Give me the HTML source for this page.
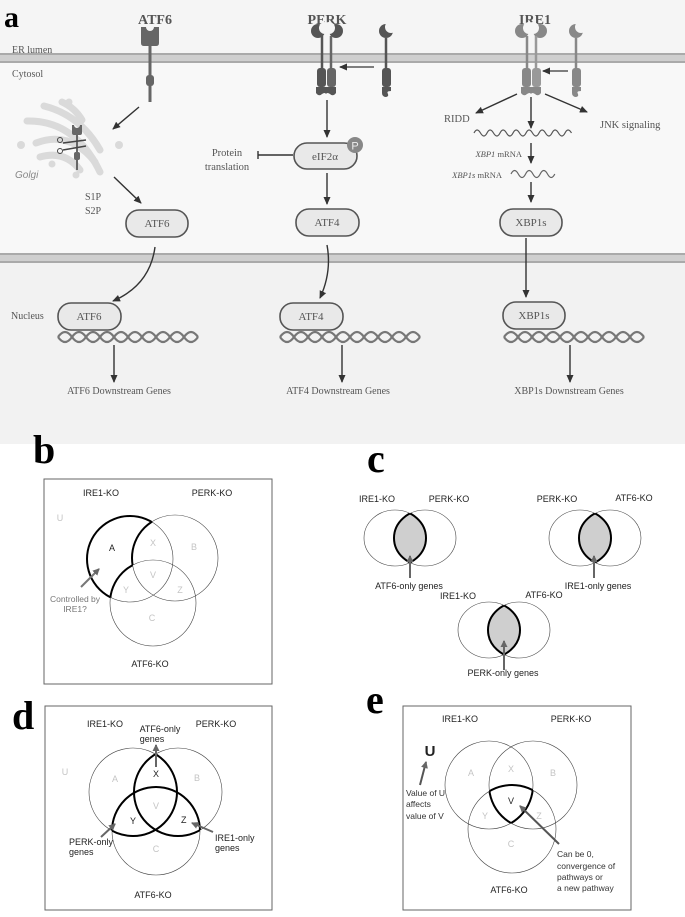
<!DOCTYPE html>
<html><head><meta charset="utf-8"><style>
html,body{margin:0;padding:0;background:#fff;}
svg{display:block;}
.s{font-family:"Liberation Serif",serif;fill:#555;}
.h{font-family:"Liberation Sans",sans-serif;font-size:9px;fill:#222;}
.g{font-family:"Liberation Sans",sans-serif;font-size:9px;fill:#c4c4c4;}
.L{font-family:"Liberation Serif",serif;font-weight:bold;fill:#000;}
</style></head><body>
<svg width="685" height="917" viewBox="0 0 685 917" xmlns="http://www.w3.org/2000/svg">
<defs>
<marker id="ar" markerWidth="8" markerHeight="8" refX="7" refY="4" orient="auto" markerUnits="userSpaceOnUse"><path d="M0,0.5 L8,4 L0,7.5 z" fill="#333"/></marker>
<marker id="ag" markerWidth="8" markerHeight="8" refX="6" refY="4" orient="auto" markerUnits="userSpaceOnUse"><path d="M0,0.5 L7,4 L0,7.5 z" fill="#666"/></marker>
<mask id="bmI"><rect width="685" height="917" fill="#fff"/><circle cx="175" cy="558" r="43" fill="#000"/><circle cx="153" cy="603" r="43" fill="#000"/></mask>
<mask id="bmP"><circle cx="130" cy="559" r="43" fill="#fff"/><circle cx="153" cy="603" r="43" fill="#000"/></mask>
<mask id="bmA"><circle cx="130" cy="559" r="43" fill="#fff"/><circle cx="175" cy="558" r="43" fill="#000"/></mask>
<clipPath id="c1l"><ellipse cx="395" cy="538" rx="31" ry="28"/></clipPath>
<clipPath id="c1r"><ellipse cx="425" cy="538" rx="31" ry="28"/></clipPath>
<clipPath id="c2l"><ellipse cx="580" cy="538" rx="31" ry="28"/></clipPath>
<clipPath id="c2r"><ellipse cx="610" cy="538" rx="31" ry="28"/></clipPath>
<clipPath id="c3l"><ellipse cx="489" cy="630" rx="31" ry="28"/></clipPath>
<clipPath id="c3r"><ellipse cx="519" cy="630" rx="31" ry="28"/></clipPath>
<clipPath id="dcI"><circle cx="178" cy="792" r="44"/><circle cx="156" cy="831" r="44"/></clipPath>
<clipPath id="dcP"><circle cx="133" cy="792" r="44"/><circle cx="156" cy="831" r="44"/></clipPath>
<clipPath id="dcA"><circle cx="133" cy="792" r="44"/><circle cx="178" cy="792" r="44"/></clipPath>
<clipPath id="eI"><circle cx="489" cy="785" r="44"/></clipPath>
<clipPath id="eP"><circle cx="533" cy="785" r="44"/></clipPath>
<clipPath id="eA"><circle cx="512" cy="829" r="44"/></clipPath>
<mask id="emI"><g clip-path="url(#eA)"><circle cx="533" cy="785" r="44" fill="#fff"/></g></mask>
<mask id="emP"><g clip-path="url(#eA)"><circle cx="489" cy="785" r="44" fill="#fff"/></g></mask>
<mask id="emA"><g clip-path="url(#eP)"><circle cx="489" cy="785" r="44" fill="#fff"/></g></mask>
</defs>

<rect x="0" y="0" width="685" height="444" fill="#f5f5f5"/>
<rect x="0" y="63" width="685" height="190" fill="#f8f8f8"/>
<rect x="0" y="263" width="685" height="181" fill="#f2f2f2"/>
<rect x="0" y="53" width="685" height="10" fill="#cfcfcf"/>
<rect x="0" y="53" width="685" height="2" fill="#aaa"/><rect x="0" y="61" width="685" height="2" fill="#aaa"/>
<rect x="0" y="253" width="685" height="10" fill="#cfcfcf"/>
<rect x="0" y="253" width="685" height="2" fill="#aaa"/><rect x="0" y="261" width="685" height="2" fill="#aaa"/>

<text x="4" y="27" class="L" font-size="30">a</text>
<text x="12" y="53" class="s" font-size="10" fill="#888">ER lumen</text>
<text x="12" y="77" class="s" font-size="10" fill="#888">Cytosol</text>
<text x="11" y="319" class="s" font-size="10" fill="#888">Nucleus</text>
<text x="155" y="24" class="s" font-size="14" text-anchor="middle" fill="#777" font-weight="bold">ATF6</text>
<text x="327" y="24" class="s" font-size="14" text-anchor="middle" fill="#777" font-weight="bold">PERK</text>
<text x="535" y="24" class="s" font-size="14" text-anchor="middle" fill="#777" font-weight="bold">IRE1</text>

<path d="M141,27 h5 a4,4 0 0 0 8,0 h5 v16 q0,3 -3,3 h-12 q-3,0 -3,-3 z" fill="#666"/>
<line x1="150" y1="45" x2="150" y2="102" stroke="#666" stroke-width="3"/>
<rect x="146" y="75" width="8" height="11" rx="3" fill="#666"/>

<g fill="#555">
<circle cx="318" cy="31" r="7"/><circle cx="336" cy="31" r="7"/>
<rect x="317" y="68" width="9" height="19" rx="3"/><rect x="327" y="68" width="9" height="19" rx="3" fill="#666"/>
<circle cx="386" cy="31" r="7"/>
<rect x="382" y="68" width="9" height="19" rx="3"/>
<path d="M316,87 h20 v6 q-3,4 -6,1 q-3,-2 -4,0 q-1,-2 -4,0 q-3,3 -6,-1 z"/>
<path d="M382,87 h9 v4 q-5,0 -3,3 q1,3 -3,3 q-3,-1 -3,-4 z"/>
</g>
<circle cx="325" cy="28" r="6" fill="#f5f5f5"/><circle cx="329" cy="28" r="6" fill="#f5f5f5"/>
<circle cx="391" cy="27" r="6" fill="#f5f5f5"/>
<line x1="322" y1="36" x2="322" y2="70" stroke="#555" stroke-width="2.5"/>
<line x1="331" y1="36" x2="331" y2="70" stroke="#666" stroke-width="2.5"/>
<line x1="386" y1="38" x2="386" y2="70" stroke="#555" stroke-width="2.5"/>
<line x1="374" y1="67" x2="340" y2="67" stroke="#555" stroke-width="1.5" marker-end="url(#ar)"/>

<g fill="#888">
<circle cx="522" cy="31" r="7"/><circle cx="540" cy="31" r="7"/>
<rect x="522" y="68" width="9" height="19" rx="3"/><rect x="532" y="68" width="9" height="19" rx="3" fill="#999"/>
<circle cx="576" cy="31" r="7"/>
<rect x="572" y="68" width="9" height="19" rx="3"/>
<path d="M521,87 h20 v6 q-3,4 -6,1 q-3,-2 -4,0 q-1,-2 -4,0 q-3,3 -6,-1 z"/>
<path d="M572,87 h9 v4 q-5,0 -3,3 q1,3 -3,3 q-3,-1 -3,-4 z"/>
</g>
<circle cx="529" cy="28" r="6" fill="#f5f5f5"/><circle cx="533" cy="28" r="6" fill="#f5f5f5"/>
<circle cx="581" cy="27" r="6" fill="#f5f5f5"/>
<line x1="527" y1="36" x2="527" y2="70" stroke="#888" stroke-width="2.5"/>
<line x1="536" y1="36" x2="536" y2="70" stroke="#999" stroke-width="2.5"/>
<line x1="576" y1="38" x2="576" y2="70" stroke="#888" stroke-width="2.5"/>
<line x1="568" y1="71" x2="543" y2="71" stroke="#555" stroke-width="1.5" marker-end="url(#ar)"/>

<g fill="none" stroke="#dadada" stroke-width="7" stroke-linecap="round">
<path d="M44,106 Q80,115 100,150"/>
<path d="M27,121 Q75,120 100,172"/>
<path d="M36,143 Q70,130 95,162"/>
<path d="M40,157 Q65,150 80,170"/>
<path d="M62,102 Q75,108 82,120"/>
</g>
<g fill="#dadada"><circle cx="21" cy="145" r="4"/><circle cx="119" cy="145" r="4"/><circle cx="52" cy="164" r="3.5"/><circle cx="76" cy="175" r="3.5"/><circle cx="69" cy="102" r="3.5"/></g>
<path d="M72,125 h2 a3,3 0 0 0 6,0 h2 v8 q0,2 -2,2 h-6 q-2,0 -2,-2 z" fill="#666"/>
<line x1="77" y1="135" x2="77" y2="170" stroke="#666" stroke-width="2"/>
<rect x="74" y="152" width="6" height="8" rx="2" fill="#666"/>
<path d="M63,143 L86,140 M63,150 L86,146" stroke="#444" stroke-width="1.5"/>
<circle cx="60" cy="140" r="2.5" fill="none" stroke="#444"/><circle cx="60" cy="151" r="2.5" fill="none" stroke="#444"/>
<text x="15" y="178" font-family="Liberation Sans,sans-serif" font-style="italic" font-size="10" fill="#888">Golgi</text>
<text x="85" y="200" class="s" font-size="10">S1P</text>
<text x="85" y="214" class="s" font-size="10">S2P</text>

<g stroke="#333" stroke-width="1.4" fill="none">
<line x1="139" y1="107" x2="113" y2="129" marker-end="url(#ar)"/>
<line x1="114" y1="177" x2="141" y2="203" marker-end="url(#ar)"/>
<line x1="327" y1="100" x2="327" y2="137" marker-end="url(#ar)"/>
<line x1="327" y1="173" x2="327" y2="204" marker-end="url(#ar)"/>
<line x1="293" y1="155" x2="258" y2="155"/>
<line x1="258" y1="151" x2="258" y2="159"/>
<line x1="531" y1="97" x2="531" y2="128" marker-end="url(#ar)"/>
<line x1="517" y1="94" x2="476" y2="113" marker-end="url(#ar)"/>
<line x1="545" y1="94" x2="587" y2="112" marker-end="url(#ar)"/>
<line x1="531" y1="143" x2="531" y2="163" marker-end="url(#ar)"/>
<line x1="531" y1="182" x2="531" y2="202" marker-end="url(#ar)"/>
<line x1="526" y1="238" x2="526" y2="297" marker-end="url(#ar)"/>
<path d="M155,247 Q150,285 113,301" marker-end="url(#ar)"/>
<path d="M327,245 Q332,272 320,298" marker-end="url(#ar)"/>
<line x1="114" y1="345" x2="114" y2="382" marker-end="url(#ar)"/>
<line x1="342" y1="345" x2="342" y2="382" marker-end="url(#ar)"/>
<line x1="570" y1="345" x2="570" y2="382" marker-end="url(#ar)"/>
</g>
<text x="227" y="156" class="s" font-size="10.5" text-anchor="middle">Protein</text>
<text x="227" y="170" class="s" font-size="10.5" text-anchor="middle">translation</text>
<text x="444" y="122" class="s" font-size="10.5">RIDD</text>
<text x="600" y="128" class="s" font-size="10.5">JNK signaling</text>
<path d="M474,133 q3,-6 6.5,0 t6.5,0 t6.5,0 t6.5,0 t6.5,0 t6.5,0 t6.5,0 t6.5,0 t6.5,0 t6.5,0 t6.5,0 t6.5,0 t6.5,0 t6.5,0 t6.5,0" fill="none" stroke="#555" stroke-width="1.2"/>
<path d="M511,174 q3.5,-7 7.3,0 t7.3,0 t7.3,0 t7.3,0 t7.3,0 t7.3,0" fill="none" stroke="#666" stroke-width="1.2"/>
<text x="522" y="157" class="s" font-size="8.5" text-anchor="end"><tspan font-style="italic">XBP1</tspan> mRNA</text>
<text x="502" y="178" class="s" font-size="8.5" text-anchor="end"><tspan font-style="italic">XBP1s</tspan> mRNA</text>

<g fill="#e9e9e9" stroke="#555" stroke-width="1.6">
<rect x="294" y="143" width="63" height="26" rx="13"/>
<rect x="126" y="210" width="62" height="27" rx="13"/>
<rect x="296" y="209" width="63" height="27" rx="13"/>
<rect x="500" y="209" width="62" height="27" rx="13"/>
<rect x="58" y="303" width="63" height="27" rx="13"/>
<rect x="280" y="303" width="63" height="27" rx="13"/>
<rect x="503" y="302" width="62" height="27" rx="13"/>
</g>
<circle cx="355" cy="145" r="8" fill="#888"/>
<text x="355" y="149.5" font-family="Liberation Sans,sans-serif" font-size="11" fill="#eee" text-anchor="middle">P</text>
<g class="s" font-size="11" text-anchor="middle" fill="#444">
<text x="325" y="160">eIF2α</text>
<text x="157" y="227">ATF6</text>
<text x="327" y="226">ATF4</text>
<text x="531" y="226">XBP1s</text>
<text x="89" y="320">ATF6</text>
<text x="311" y="320">ATF4</text>
<text x="534" y="319">XBP1s</text>
</g>
<g fill="none" stroke="#777" stroke-width="2.2">
<path d="M58,337 q7,-10 14,0 t14,0 t14,0 t14,0 t14,0 t14,0 t14,0 t14,0 t14,0 t14,0"/>
<path d="M58,337 q7,10 14,0 t14,0 t14,0 t14,0 t14,0 t14,0 t14,0 t14,0 t14,0 t14,0"/>
<path d="M280,337 q7,-10 14,0 t14,0 t14,0 t14,0 t14,0 t14,0 t14,0 t14,0 t14,0 t14,0"/>
<path d="M280,337 q7,10 14,0 t14,0 t14,0 t14,0 t14,0 t14,0 t14,0 t14,0 t14,0 t14,0"/>
<path d="M504,337 q7,-10 14,0 t14,0 t14,0 t14,0 t14,0 t14,0 t14,0 t14,0 t14,0 t14,0"/>
<path d="M504,337 q7,10 14,0 t14,0 t14,0 t14,0 t14,0 t14,0 t14,0 t14,0 t14,0 t14,0"/>
</g>
<g class="s" font-size="10" text-anchor="middle" fill="#666">
<text x="119" y="394">ATF6 Downstream Genes</text>
<text x="338" y="394">ATF4 Downstream Genes</text>
<text x="569" y="394">XBP1s Downstream Genes</text>
</g>

<text x="33" y="463" class="L" font-size="40">b</text>
<rect x="44" y="479" width="228" height="205" fill="none" stroke="#666" stroke-width="1"/>
<g fill="none" stroke="#444" stroke-width="0.6">
<circle cx="130" cy="559" r="43"/><circle cx="175" cy="558" r="43"/><circle cx="153" cy="603" r="43"/>
</g>
<g fill="none" stroke="#000" stroke-width="2">
<circle cx="130" cy="559" r="43" mask="url(#bmI)"/>
<circle cx="175" cy="558" r="43" mask="url(#bmP)"/>
<circle cx="153" cy="603" r="43" mask="url(#bmA)"/>
</g>
<text x="101" y="496" class="h" text-anchor="middle">IRE1-KO</text>
<text x="212" y="496" class="h" text-anchor="middle">PERK-KO</text>
<text x="150" y="667" class="h" text-anchor="middle">ATF6-KO</text>
<g class="g" text-anchor="middle">
<text x="60" y="521">U</text><text x="153" y="546">X</text><text x="194" y="550">B</text><text x="153" y="578">V</text><text x="126" y="593">Y</text><text x="180" y="593">Z</text><text x="152" y="621">C</text>
</g>
<text x="112" y="551" class="h" text-anchor="middle">A</text>
<line x1="81" y1="587" x2="99" y2="569" stroke="#777" stroke-width="2" marker-end="url(#ag)"/>
<text x="75" y="602" font-family="Liberation Sans,sans-serif" font-size="8.5" fill="#777" text-anchor="middle">Controlled by</text>
<text x="75" y="612" font-family="Liberation Sans,sans-serif" font-size="8.5" fill="#777" text-anchor="middle">IRE1?</text>

<text x="367" y="472" class="L" font-size="40">c</text>
<g fill="#cfcfcf">
<ellipse cx="395" cy="538" rx="31" ry="28" clip-path="url(#c1r)"/>
<ellipse cx="580" cy="538" rx="31" ry="28" clip-path="url(#c2r)"/>
<ellipse cx="489" cy="630" rx="31" ry="28" clip-path="url(#c3r)"/>
</g>
<g fill="none" stroke="#444" stroke-width="0.6">
<ellipse cx="395" cy="538" rx="31" ry="28"/><ellipse cx="425" cy="538" rx="31" ry="28"/>
<ellipse cx="580" cy="538" rx="31" ry="28"/><ellipse cx="610" cy="538" rx="31" ry="28"/>
<ellipse cx="489" cy="630" rx="31" ry="28"/><ellipse cx="519" cy="630" rx="31" ry="28"/>
</g>
<g fill="none" stroke="#000" stroke-width="2">
<ellipse cx="395" cy="538" rx="31" ry="28" clip-path="url(#c1r)"/><ellipse cx="425" cy="538" rx="31" ry="28" clip-path="url(#c1l)"/>
<ellipse cx="580" cy="538" rx="31" ry="28" clip-path="url(#c2r)"/><ellipse cx="610" cy="538" rx="31" ry="28" clip-path="url(#c2l)"/>
<ellipse cx="489" cy="630" rx="31" ry="28" clip-path="url(#c3r)"/><ellipse cx="519" cy="630" rx="31" ry="28" clip-path="url(#c3l)"/>
</g>
<g stroke="#666" stroke-width="2">
<line x1="410" y1="578" x2="410" y2="556" marker-end="url(#ag)"/>
<line x1="594" y1="578" x2="594" y2="556" marker-end="url(#ag)"/>
<line x1="504" y1="670" x2="504" y2="641" marker-end="url(#ag)"/>
</g>
<g class="h" text-anchor="middle">
<text x="377" y="502">IRE1-KO</text><text x="449" y="502">PERK-KO</text>
<text x="557" y="502">PERK-KO</text><text x="634" y="501">ATF6-KO</text>
<text x="409" y="589">ATF6-only genes</text><text x="598" y="589">IRE1-only genes</text>
<text x="458" y="599">IRE1-KO</text><text x="544" y="598">ATF6-KO</text>
<text x="503" y="676">PERK-only genes</text>
</g>

<text x="12" y="729" class="L" font-size="40">d</text>
<rect x="45" y="706" width="227" height="204" fill="none" stroke="#666" stroke-width="1"/>
<g fill="none" stroke="#444" stroke-width="0.6">
<circle cx="133" cy="792" r="44"/><circle cx="178" cy="792" r="44"/><circle cx="156" cy="831" r="44"/>
</g>
<g fill="none" stroke="#000" stroke-width="2">
<circle cx="133" cy="792" r="44" clip-path="url(#dcI)"/>
<circle cx="178" cy="792" r="44" clip-path="url(#dcP)"/>
<circle cx="156" cy="831" r="44" clip-path="url(#dcA)"/>
</g>
<g class="h" text-anchor="middle">
<text x="105" y="727">IRE1-KO</text><text x="216" y="727">PERK-KO</text><text x="153" y="898">ATF6-KO</text>
<text x="160" y="732">ATF6-only</text><text x="152" y="742">genes</text>
<text x="156" y="777">X</text>
</g>
<text x="130" y="824" class="h">Y</text><text x="181" y="823" class="h">Z</text>
<text x="69" y="845" class="h">PERK-only</text><text x="69" y="855" class="h">genes</text>
<text x="215" y="841" class="h">IRE1-only</text><text x="215" y="851" class="h">genes</text>
<g class="g" text-anchor="middle">
<text x="65" y="775">U</text><text x="115" y="782">A</text><text x="197" y="781">B</text><text x="156" y="809">V</text><text x="156" y="852">C</text>
</g>
<g stroke="#666" stroke-width="2">
<line x1="156" y1="767" x2="156" y2="745" marker-end="url(#ag)"/>
<line x1="101" y1="837" x2="115" y2="824" marker-end="url(#ag)"/>
<line x1="213" y1="832" x2="192" y2="823" marker-end="url(#ag)"/>
</g>

<text x="366" y="713" class="L" font-size="40">e</text>
<rect x="403" y="706" width="228" height="204" fill="none" stroke="#666" stroke-width="1"/>
<g fill="none" stroke="#444" stroke-width="0.6">
<circle cx="489" cy="785" r="44"/><circle cx="533" cy="785" r="44"/><circle cx="512" cy="829" r="44"/>
</g>
<g fill="none" stroke="#000" stroke-width="2">
<circle cx="489" cy="785" r="44" mask="url(#emI)"/>
<circle cx="533" cy="785" r="44" mask="url(#emP)"/>
<circle cx="512" cy="829" r="44" mask="url(#emA)"/>
</g>
<g class="h" text-anchor="middle">
<text x="460" y="722">IRE1-KO</text><text x="571" y="722">PERK-KO</text><text x="509" y="893">ATF6-KO</text>
<text x="511" y="804">V</text>
</g>
<text x="430" y="756" font-family="Liberation Sans,sans-serif" font-weight="bold" font-size="15" fill="#222" text-anchor="middle">U</text>
<g class="g" text-anchor="middle">
<text x="471" y="776">A</text><text x="511" y="772">X</text><text x="553" y="776">B</text><text x="485" y="819">Y</text><text x="539" y="819">Z</text><text x="511" y="847">C</text>
</g>
<g font-family="Liberation Sans,sans-serif" font-size="8.5" fill="#333">
<text x="406" y="796">Value of U</text><text x="406" y="807">affects</text><text x="406" y="819">value of V</text>
<text x="557" y="857">Can be 0,</text><text x="557" y="869">convergence of</text><text x="557" y="880">pathways or</text><text x="557" y="891">a new pathway</text>
</g>
<g stroke="#555" stroke-width="2">
<line x1="420" y1="785" x2="426" y2="762" marker-end="url(#ag)"/>
<line x1="559" y1="844" x2="520" y2="806" marker-end="url(#ag)"/>
</g>
</svg>
</body></html>
